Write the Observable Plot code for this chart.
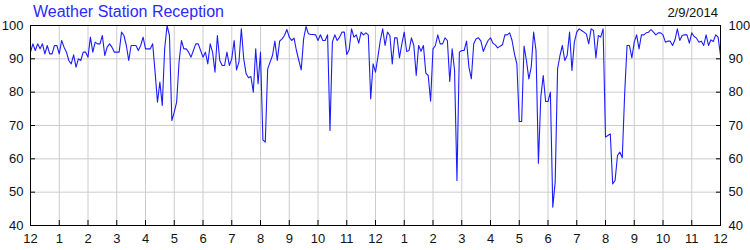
<!DOCTYPE html>
<html>
<head>
<meta charset="utf-8">
<script src="https://cdn.jsdelivr.net/npm/d3@7"></script>
<script src="https://cdn.jsdelivr.net/npm/@observablehq/plot@0.6"></script>
<style>
  html, body { margin: 0; padding: 0; background: #fff; }
  #wrap { position: relative; width: 750px; height: 250px; overflow: hidden; }
  #title { position: absolute; left: 33px; top: 4px; font: 16px/16px "Liberation Sans", Arial, sans-serif; color: #2a2aff; white-space: nowrap; }
  #date { position: absolute; right: 32px; top: 6px; font: 13px/13px "Liberation Sans", Arial, sans-serif; color: #111; white-space: nowrap; }
  svg { display: block; }
</style>
</head>
<body>
<div id="wrap">
  <div id="chart"></div>
  <div id="title"></div>
  <div id="date"></div>
</div>
<script>
const titleText = "Weather Station Reception";
const dateText = "2/9/2014";
const intervalMinutes = 5;
const hourTicks = d3.range(0, 25, 1);
const valueTicks = [40, 50, 60, 70, 80, 90, 100];

// reception %, one reading every 5 minutes, midnight to midnight
const night = [
  92, 94.5, 92.5, 94.5, 93, 94.5, 91.5, 94, 91.5, 91.5, 94, 94,
  91.5, 95.5, 93.5, 92, 89.5, 88.5, 91.2, 87.5, 90, 89.5, 92, 92,
  90.5, 96.5, 92, 95, 94.5, 94.5, 97, 91, 93.5, 94.5, 93.5, 92,
  92, 92, 98, 97, 94, 89.5, 94, 94, 94, 92.5, 94, 96.5,
  93, 93, 93, 94.5, 86, 77, 83, 76, 93, 100, 97, 71.5,
  74, 77, 89, 95.5, 93, 93, 92, 90.5, 92.5, 94.5, 94.5, 92.5
];
const morning = [
  90.5, 92, 88.5, 94.5, 92, 86, 97, 89.5, 88, 88, 92, 88,
  90, 95.5, 86.7, 89, 99, 90, 85.5, 84.3, 84.7, 80, 93, 82.5,
  92, 65.7, 65, 87, 89, 91, 95.3, 89.5, 95.3, 96, 97, 98.8,
  96.5, 95.5, 96.2, 92.5, 89.5, 86.7, 96, 99.7, 97.5, 97.3, 97.3, 97.2,
  95.5, 97.2, 95.5, 95.5, 97.2, 68.5, 95, 97.2, 95.5, 96.5, 98, 98,
  91.3, 92.7, 99, 96.5, 97.2, 94.7, 98, 97.2, 97.8, 97.2, 78, 88.5
];
const afternoon = [
  86, 90.5, 95.5, 99, 94, 98, 97, 88.5, 96.3, 96.3, 90.3, 94.5,
  98, 92.2, 92.5, 96.3, 94, 85, 94, 92.3, 94, 85.7, 85, 77.3,
  93, 94, 97.2, 94.5, 94.5, 96.3, 95.5, 83.2, 93, 86.5, 53.5, 92,
  92.5, 92.5, 95.3, 87.5, 84, 94.5, 96, 96.3, 95.3, 92.2, 94, 95.5,
  96.3, 94.7, 94.2, 93.3, 93.8, 94.2, 97.2, 97.2, 97.8, 95.5, 91.5, 88.5,
  71.2, 71.2, 93.8, 89.5, 84, 87.5, 98, 92.5, 58.7, 78.5, 85, 77.2
];
const evening = [
  77.2, 80, 45.5, 53, 87, 91, 94, 89.5, 91, 98, 86.5, 95,
  98, 99, 98.5, 98, 97.5, 94.5, 99, 98.5, 90.3, 97, 96.5, 99,
  66.5, 67, 67.5, 52.5, 53.5, 61, 62, 60.3, 79.5, 94, 94, 90.3,
  95, 97.2, 93, 97.2, 97.2, 97.8, 98, 98.8, 98, 97.2, 97.8, 97.8,
  97.2, 95, 95.3, 95.3, 94, 95.7, 99, 95.5, 97, 97.2, 97.2, 94.7,
  97.8, 96.7, 96.2, 95, 95.3, 94, 97.2, 94, 95.7, 95.2, 97.2, 96.5,
  91
];

const readings = [...night, ...morning, ...afternoon, ...evening]
  .map((v, i) => ({hour: i * intervalMinutes / 60, value: v}));

const hourLabel = h => String((h % 12) || 12);

const chart = Plot.plot({
  width: 750,
  height: 250,
  marginLeft: 30,
  marginRight: 30,
  marginTop: 25,
  marginBottom: 25,
  style: {
    fontFamily: '"Liberation Sans", Arial, sans-serif',
    fontSize: "13px",
    color: "#111",
    background: "#fff",
    overflow: "visible"
  },
  x: {domain: [0, 24], label: null},
  y: {domain: [40, 100], label: null},
  marks: [
    Plot.gridX(hourTicks, {stroke: "#cccccc", strokeOpacity: 1}),
    Plot.gridY(valueTicks, {stroke: "#cccccc", strokeOpacity: 1}),
    Plot.lineY(readings, {x: "hour", y: "value", stroke: "#1c1cff", strokeWidth: 1.1}),
    Plot.axisY(valueTicks, {anchor: "left", tickSize: -5, tickPadding: 12, label: null, stroke: "#000"}),
    Plot.axisY(valueTicks, {anchor: "right", tickSize: -5, tickPadding: 13, label: null, stroke: "#000"}),
    Plot.axisX(hourTicks, {anchor: "bottom", tickSize: -5, tickPadding: 13, tickFormat: hourLabel, label: null, stroke: "#000"}),
    Plot.frame({stroke: "#000", strokeWidth: 1})
  ]
});

document.getElementById("chart").appendChild(chart);
document.getElementById("title").textContent = titleText;
document.getElementById("date").textContent = dateText;
</script>
</body>
</html>
